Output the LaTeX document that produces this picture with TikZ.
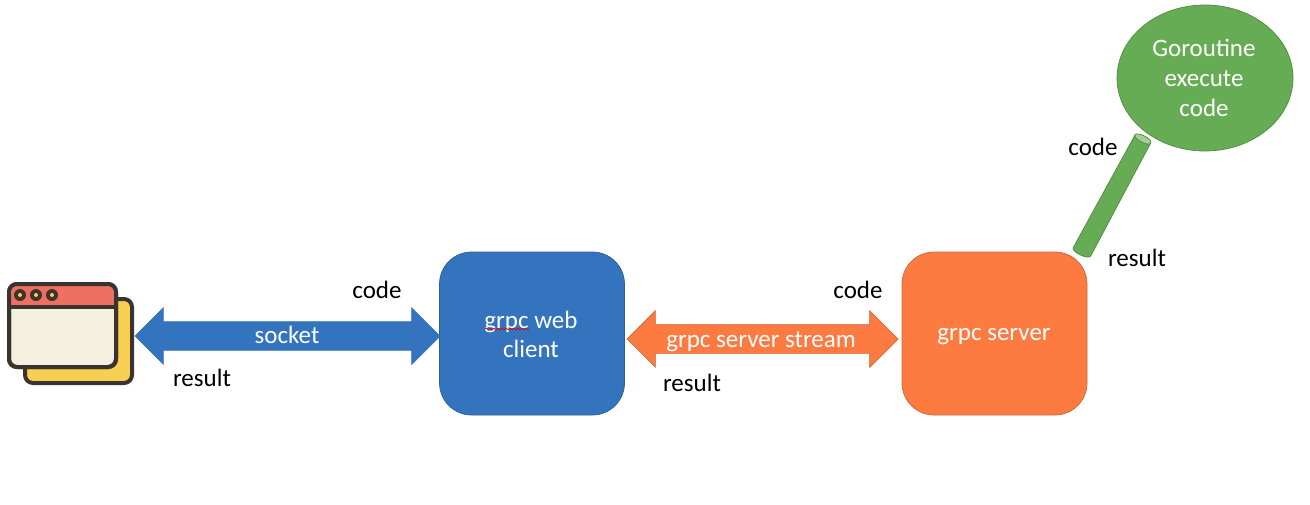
\documentclass[tikz,border=0pt]{standalone}
\usepackage{fontspec}
\setmainfont{Carlito}
\usetikzlibrary{shapes.arrows,shapes.geometric,decorations.pathmorphing}
\definecolor{bluefill}{HTML}{3474BE}
\definecolor{blueedge}{HTML}{2F5F93}
\definecolor{orangefill}{HTML}{FD7A40}
\definecolor{orangeedge}{HTML}{C9693A}
\definecolor{greenfill}{HTML}{66AC54}
\definecolor{greenedge}{HTML}{4F8A3E}
\definecolor{greenlight}{HTML}{A5CD9A}
\definecolor{iconline}{HTML}{3A332E}
\definecolor{iconyellow}{HTML}{F7CF52}
\definecolor{iconred}{HTML}{EE7060}
\definecolor{iconcream}{HTML}{F3F0E0}
\tikzset{
  x=1pt,y=-1pt,
  txt/.style={font=\fontsize{25}{29}\selectfont,text=black,inner sep=0pt,align=center},
  wtxt/.style={txt,text=white},
  box/.style={draw,line width=.7pt,rounded corners=32pt,minimum width=185pt,minimum height=163pt,inner sep=0pt},
  darrow/.style={double arrow,double arrow head extend=14pt,double arrow tip angle=90,
    double arrow head indent=0pt,inner sep=0pt,line width=.7pt,draw},
  iconstroke/.style={draw=iconline,line width=4pt,line join=round},
  squiggle/.style={draw=red!85!black,line width=.7pt,decorate,decoration={snake,amplitude=.8pt,segment length=4pt}}
}
\begin{document}
\begin{tikzpicture}
\useasboundingbox (0,0) rectangle (1310,504);
\fill[white] (0,0) rectangle (1310,504);
% browser icon
\draw[iconstroke,fill=iconyellow,rounded corners=8pt] (25,299) rectangle (132,383);
\draw[iconstroke,fill=iconcream,rounded corners=8pt] (9,284) rectangle (116,367);
\fill[iconred,rounded corners=7pt] (11,286) -- (114,286) -- (114,307) -- (11,307) -- cycle;
\fill[iconred] (11,296) rectangle (114,307);
\draw[iconstroke,rounded corners=8pt] (9,284) rectangle (116,367);
\draw[iconline,line width=4pt] (9,307) -- (116,307);
\foreach \cx in {20,36,52}{
  \fill[iconline] (\cx,295) circle[radius=6pt];
  \fill[iconyellow] (\cx,295) circle[radius=2pt];
}
% boxes
\node[box,fill=bluefill,draw=blueedge] (client) at (532,333.5) {};
\node[box,fill=orangefill,draw=orangeedge] (server) at (994.5,333.5) {};
\node[wtxt] (clientlabel) at (531,334.5) {grpc web\\client};
\draw[squiggle] (485,329) -- (529,329);
\node[wtxt] (serverlabel) at (994,337) {grpc server};
% arrows
\node[darrow,fill=bluefill,draw=bluefill,minimum height=305pt] (socket) at (287.5,336) {\rule{0pt}{28pt}};
\node[wtxt] (socketlabel) at (287,335) {socket};
\node[darrow,fill=orangefill,draw=orangeedge,minimum height=271pt] (stream) at (762.5,339) {\rule{0pt}{28pt}};
\node[wtxt] (streamlabel) at (761,342) {grpc server stream};
% goroutine
\node[ellipse,draw=greenedge,line width=.7pt,fill=greenfill,minimum width=176pt,minimum height=146pt,inner sep=0pt] (gor) at (1205,78) {};
\node[wtxt] (gorlabel) at (1204,78) {Goroutine\\[1pt]execute\\[1pt]code};
% cylinder
\draw[draw=greenedge,line width=.7pt,fill=greenfill,line join=round]
  (1135,135) -- (1073,248) .. controls (1072,252) and (1088,260) .. (1090.7,256) -- (1150.7,143) -- cycle;
\draw[draw=greenedge,line width=.7pt,fill=greenlight]
  (1135,135) .. controls (1137,131) and (1153,139) .. (1150.7,143) .. controls (1149,147) and (1133,139) .. (1135,135) -- cycle;
% labels
\node[txt] (code1) at (377,290) {code};
\node[txt] (result1) at (202,378) {result};
\node[txt] (code2) at (858,290) {code};
\node[txt] (result2) at (692,383) {result};
\node[txt] (code3) at (1093,147) {code};
\node[txt] (result3) at (1137,258) {result};
\end{tikzpicture}
\end{document}
